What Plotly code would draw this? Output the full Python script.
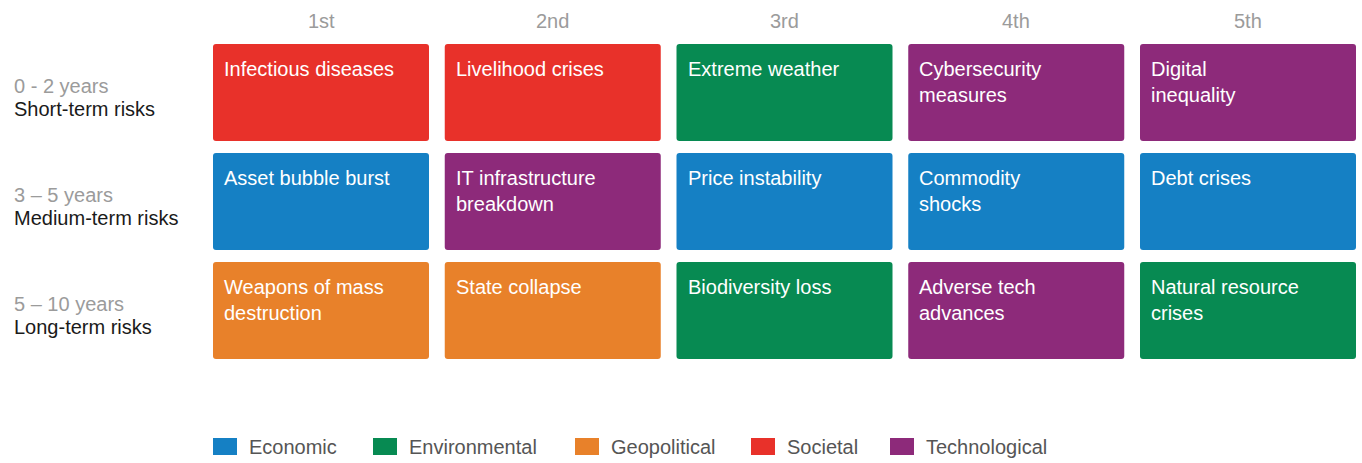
import plotly.graph_objects as go

# ---------------- data ----------------
ranks = ["1st", "2nd", "3rd", "4th", "5th"]
horizons = ["0 - 2 years", "3 – 5 years", "5 – 10 years"]
horizon_names = ["Short-term risks", "Medium-term risks", "Long-term risks"]
risks = [
    ["Infectious diseases", "Livelihood crises", "Extreme weather",
     "Cybersecurity<br>measures", "Digital<br>inequality"],
    ["Asset bubble burst", "IT infrastructure<br>breakdown", "Price instability",
     "Commodity<br>shocks", "Debt crises"],
    ["Weapons of mass<br>destruction", "State collapse", "Biodiversity loss",
     "Adverse tech<br>advances", "Natural resource<br>crises"],
]
risk_categories = [
    ["Societal", "Societal", "Environmental", "Technological", "Technological"],
    ["Economic", "Technological", "Economic", "Economic", "Economic"],
    ["Geopolitical", "Geopolitical", "Environmental", "Technological", "Environmental"],
]
categories = ["Economic", "Environmental", "Geopolitical", "Societal", "Technological"]
category_colors = ["#1580C4", "#078A52", "#E8812A", "#E8312A", "#8D2A7A"]

# ---------------- layout constants ----------------
W, H = 1362, 463
FONT = "Liberation Sans, Arial, Helvetica, sans-serif"
col_pitch, col0 = 231.75, 321.0      # pixels
row_pitch, row0 = 109.0, 92.5        # pixels
half_w = 108.0 / col_pitch
half_h = 48.5 / row_pitch
rx, ry = 3.0 / col_pitch, 3.0 / row_pitch

cmap = dict(zip(categories, category_colors))

fig = go.Figure()
fig.add_trace(go.Scatter(x=[0, 4], y=[0, 2], mode="markers",
                         marker=dict(opacity=0), hoverinfo="skip", showlegend=False))

shapes = []
annotations = []

def rounded(x0, y0, x1, y1):
    return (f"M {x0+rx},{y0} L {x1-rx},{y0} Q {x1},{y0} {x1},{y0+ry} "
            f"L {x1},{y1-ry} Q {x1},{y1} {x1-rx},{y1} L {x0+rx},{y1} "
            f"Q {x0},{y1} {x0},{y1-ry} L {x0},{y0+ry} Q {x0},{y0} {x0+rx},{y0} Z")

for r, row in enumerate(risks):
    for c, name in enumerate(row):
        x0, x1 = c - half_w, c + half_w
        y0, y1 = r - half_h, r + half_h
        shapes.append(dict(type="path", xref="x", yref="y",
                           path=rounded(x0, y0, x1, y1),
                           fillcolor=cmap[risk_categories[r][c]],
                           line=dict(width=0), layer="below"))
        annotations.append(dict(x=x0, y=y0, xref="x", yref="y",
                                xanchor="left", yanchor="top", align="left",
                                xshift=9, yshift=-12, showarrow=False,
                                text=name,
                                font=dict(family=FONT, size=20, color="white")))

# column headers
for c, rk in enumerate(ranks):
    annotations.append(dict(x=c, y=(21 - row0) / row_pitch, xref="x", yref="y",
                            text=rk, showarrow=False,
                            font=dict(family=FONT, size=20, color="#9B9B9B")))

# row labels
for r in range(len(horizons)):
    annotations.append(dict(x=12 / W, y=r, xref="paper", yref="y",
                            xanchor="left", yanchor="middle", yshift=6.5,
                            text=horizons[r], showarrow=False,
                            font=dict(family=FONT, size=20, color="#9B9B9B")))
    annotations.append(dict(x=12 / W, y=r, xref="paper", yref="y",
                            xanchor="left", yanchor="middle", yshift=-16.5,
                            text=horizon_names[r], showarrow=False,
                            font=dict(family=FONT, size=20, color="#1A1A1A")))

# legend (drawn manually)
legend_x = [213, 373, 575, 751, 890]
for cat, col, lx in zip(categories, category_colors, legend_x):
    shapes.append(dict(type="rect", xref="paper", yref="paper",
                       x0=lx / W, x1=(lx + 24) / W,
                       y0=1 - 455 / H, y1=1 - 438 / H,
                       fillcolor=col, line=dict(width=0)))
    annotations.append(dict(x=(lx + 34) / W, y=1 - 447 / H, xref="paper", yref="paper",
                            xanchor="left", yanchor="middle", text=cat, showarrow=False,
                            font=dict(family=FONT, size=20, color="#555555")))

fig.update_layout(
    width=W, height=H,
    margin=dict(l=0, r=0, t=0, b=0),
    paper_bgcolor="white", plot_bgcolor="white",
    xaxis=dict(range=[-col0 / col_pitch, (W - col0) / col_pitch], visible=False,
               fixedrange=True),
    yaxis=dict(range=[(H - row0) / row_pitch, -row0 / row_pitch], visible=False,
               fixedrange=True),
    shapes=shapes, annotations=annotations, showlegend=False,
)

fig.write_html("out.html", config={"displayModeBar": False},
               post_script="document.body.style.margin='0';document.body.style.overflow='hidden';")
